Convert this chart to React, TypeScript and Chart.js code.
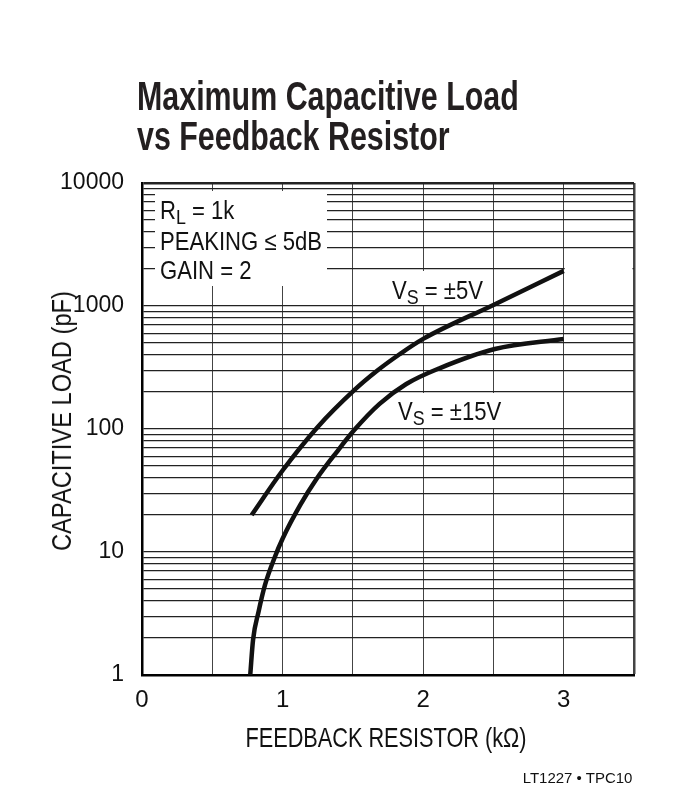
import React, { useEffect, useRef } from "react";
import { Chart, registerables } from "chart.js";
Chart.register(...registerables);

// Feedback resistor (kΩ) and maximum capacitive load (pF)
const rfK_5V = [0.78, 1.0, 1.25, 1.51, 1.67, 1.835, 2.0, 2.5, 3.0];
const capPF_5V = [20, 46, 104, 207, 296, 407, 540, 1020, 1930];
const rfK_15V = [0.77, 0.79, 0.83, 0.875, 0.945, 1.0, 1.125, 1.24, 1.385, 1.51, 1.69, 1.88, 2.12, 2.51, 3.0];
const capPF_15V = [1, 1.93, 3.3, 5.4, 9.1, 12.8, 24, 39, 65, 98, 160, 232, 313, 447, 540];

const xTickValues = [0, 0.5, 1, 1.5, 2, 2.5, 3, 3.5];
const xTickLabels = ["0", "", "1", "", "2", "", "3", ""];
const yDecades = [1, 10, 100, 1000, 10000];
const yTickLabels = ["1", "10", "100", "1000", "10000"];

const titleLines = ["Maximum Capacitive Load", "vs Feedback Resistor"];
const xTitle = "FEEDBACK RESISTOR (kΩ)";
const yTitle = "CAPACITIVE LOAD (pF)";
const footer = "LT1227 • TPC10";
const conditionLines = [["R", "L", " = 1k"], ["PEAKING ≤ 5dB"], ["GAIN = 2"]];
const seriesLabel5 = ["V", "S", " = ±5V"];
const seriesLabel15 = ["V", "S", " = ±15V"];

const FONT = '"Liberation Sans", Arial, Helvetica, sans-serif';
const INK = "#111";

function drawRich(ctx: CanvasRenderingContext2D, parts: string[], x: number, y: number, size: number, subSize: number, sx: number) {
  let cx = x;
  parts.forEach((p, i) => {
    const isSub = parts.length === 3 && i === 1;
    ctx.save();
    ctx.translate(cx, isSub ? y + 5 : y);
    ctx.scale(sx, 1);
    ctx.font = `${isSub ? subSize : size}px ${FONT}`;
    ctx.fillStyle = INK;
    ctx.textBaseline = "alphabetic";
    ctx.textAlign = "left";
    ctx.fillText(p, 0, 0);
    const w = ctx.measureText(p).width * sx;
    ctx.restore();
    cx += w;
  });
}

const annotPlugin = {
  id: "annot",
  beforeDatasetsDraw(chart: any) {
    const { ctx, chartArea: a, scales } = chart;
    ctx.save();
    ctx.fillStyle = "#fff";
    ctx.fillRect(a.left + 13, a.top + 8, 172, 95);
    ctx.fillRect(a.left + 244, a.top + 88, 104, 34);
    ctx.fillRect(a.left + 253, a.top + 210, 115, 35);
    // the 2000 pF grid line stops at 3kΩ in the original
    const x3 = scales.x.getPixelForValue(3) + 1;
    const y2k = scales.y.getPixelForValue(2000);
    ctx.fillRect(x3, y2k - 1.5, a.right - x3 - 1.5, 3);
    ctx.restore();
  },
  afterDatasetsDraw(chart: any) {
    const { ctx, chartArea: a } = chart;
    const sx = 0.85;
    drawRich(ctx, conditionLines[0], a.left + 18, a.top + 35.5, 26, 21, sx);
    drawRich(ctx, conditionLines[1], a.left + 18, a.top + 67, 26, 21, sx);
    drawRich(ctx, conditionLines[2], a.left + 18, a.top + 95.5, 26, 21, sx);
    drawRich(ctx, seriesLabel5, a.left + 250, a.top + 115.5, 26, 21, sx);
    drawRich(ctx, seriesLabel15, a.left + 256, a.top + 237, 26, 21, sx);
  },
};

export default function App() {
  const ref = useRef<HTMLCanvasElement | null>(null);
  useEffect(() => {
    if (!ref.current) return;
    const chart = new Chart(ref.current, {
      type: "line",
      data: {
        datasets: [
          {
            label: "VS = ±5V",
            data: rfK_5V.map((x, i) => ({ x, y: capPF_5V[i] })),
            borderColor: INK,
            borderWidth: 4.5,
            pointRadius: 0,
            cubicInterpolationMode: "monotone",
            fill: false,
          },
          {
            label: "VS = ±15V",
            data: rfK_15V.map((x, i) => ({ x, y: capPF_15V[i] })),
            borderColor: INK,
            borderWidth: 4.5,
            pointRadius: 0,
            cubicInterpolationMode: "monotone",
            fill: false,
          },
        ],
      },
      options: {
        responsive: false,
        animation: false,
        devicePixelRatio: 1,
        layout: { padding: { left: 0, top: 183, right: 47, bottom: 0 } },
        plugins: { legend: { display: false }, tooltip: { enabled: false }, title: { display: false } },
        scales: {
          x: {
            type: "linear",
            min: 0,
            max: 3.5,
            afterBuildTicks: (s: any) => {
              s.ticks = xTickValues.map((v) => ({ value: v }));
            },
            afterFit: (s: any) => {
              s.height = 129;
            },
            ticks: {
              autoSkip: false,
              maxRotation: 0,
              padding: 11,
              color: INK,
              font: { family: FONT, size: 24 },
              callback: (v: any) => {
                const i = xTickValues.indexOf(Number(v));
                return i >= 0 ? xTickLabels[i] : "";
              },
            },
            grid: {
              drawTicks: false,
              color: "#444",
              lineWidth: (c: any) => (c.tick && c.tick.value === 3.5 ? 2.5 : 1),
            },
            border: { display: true, color: "#000", width: 2.5 },
          },
          y: {
            type: "logarithmic",
            min: 1,
            max: 10000,
            afterBuildTicks: (s: any) => {
              const t: any[] = [];
              for (let d = 0; d < yDecades.length - 1; d++) {
                for (let m = 1; m <= 9; m++) t.push({ value: yDecades[d] * m });
              }
              t.push({ value: yDecades[yDecades.length - 1] });
              s.ticks = t;
            },
            afterFit: (s: any) => {
              s.width = 142;
            },
            ticks: {
              autoSkip: false,
              padding: 18,
              color: INK,
              font: { family: FONT, size: 23 },
              callback: (v: any) => {
                const i = yDecades.indexOf(Number(v));
                return i >= 0 ? yTickLabels[i] : "";
              },
            },
            grid: {
              drawTicks: false,
              color: "#222",
              lineWidth: (c: any) => (c.tick && c.tick.value === 10000 ? 2.5 : 1.2),
            },
            border: { display: true, color: "#000", width: 2.5 },
          },
        },
      },
      plugins: [annotPlugin],
    } as any);
    return () => chart.destroy();
  }, []);

  const txt: React.CSSProperties = {
    position: "absolute",
    whiteSpace: "nowrap",
    fontFamily: FONT,
    color: INK,
    margin: 0,
  };

  return (
    <div style={{ position: "absolute", left: 0, top: 0, width: 681, height: 804, background: "#fff" }}>
      <canvas ref={ref} width={681} height={804} style={{ position: "absolute", left: 0, top: 0, width: 681, height: 804 }} />
      {titleLines.map((t, i) => (
        <div
          key={i}
          style={{
            ...txt,
            left: 137,
            top: 75.5 + i * 40,
            fontSize: 40,
            lineHeight: "40px",
            fontWeight: 700,
            color: "#231f20",
            transform: "scaleX(0.76)",
            transformOrigin: "left center",
          }}
        >
          {t}
        </div>
      ))}
      <div
        style={{
          ...txt,
          left: 386,
          top: 724.3,
          fontSize: 28,
          lineHeight: "28px",
          transform: "translateX(-50%) scaleX(0.775)",
        }}
      >
        {xTitle}
      </div>
      <div
        style={{
          ...txt,
          left: 62,
          top: 421,
          fontSize: 28,
          lineHeight: "28px",
          transform: "translate(-50%, -50%) rotate(-90deg) scaleX(0.845)",
        }}
      >
        {yTitle}
      </div>
      <div style={{ ...txt, left: 522.7, top: 770.3, fontSize: 15, lineHeight: "15px" }}>{footer}</div>
    </div>
  );
}
